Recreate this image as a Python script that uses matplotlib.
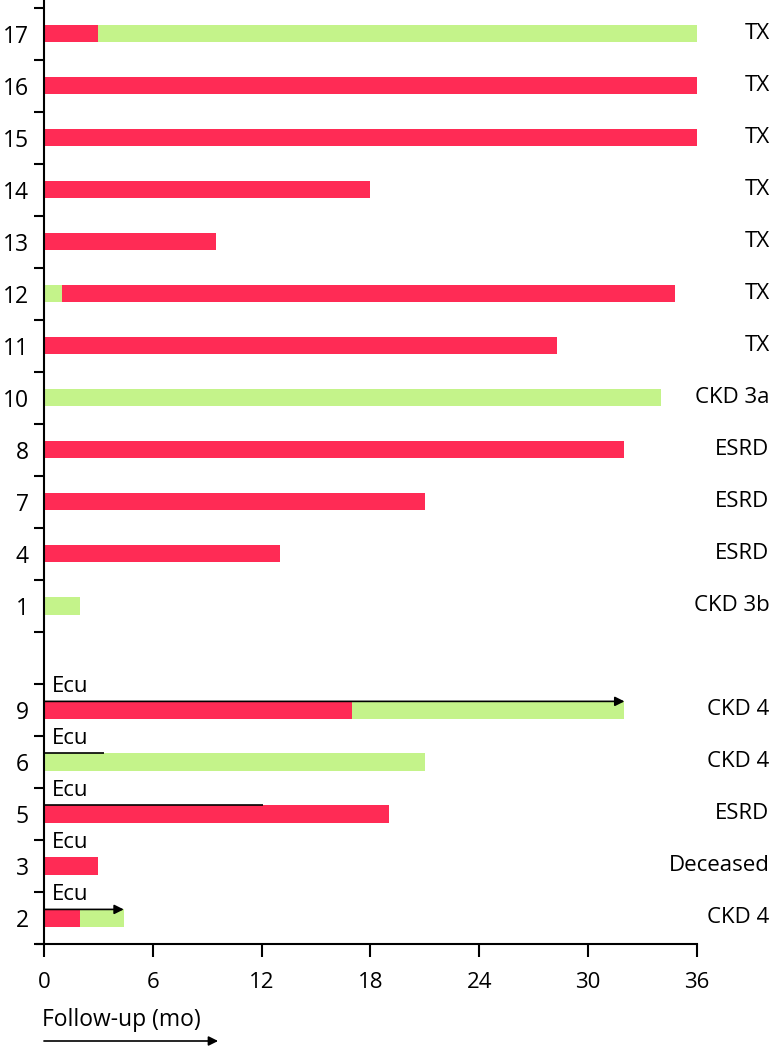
import matplotlib
matplotlib.use("Agg")
import matplotlib.pyplot as plt
from matplotlib.transforms import blended_transform_factory

plt.rcParams["font.family"] = ["Open Sans", "DejaVu Sans"]

RED = "#ff2b55"
GREEN = "#c4f38a"

# patients top to bottom; the lower group (ecu treated) sits below an empty row
ids = ["17", "16", "15", "14", "13", "12", "11", "10", "8", "7", "4", "1",
       "9", "6", "5", "3", "2"]
first_len = [3, 36, 36, 18, 9.5, 1, 28.3, 34, 32, 21, 13, 2,
             17, 21, 19, 3, 2]
first_col = ["r", "r", "r", "r", "r", "g", "r", "g", "r", "r", "r", "g",
             "r", "g", "r", "r", "r"]
second_len = [33, 0, 0, 0, 0, 33.8, 0, 0, 0, 0, 0, 0,
              15, 0, 0, 0, 2.4]
second_col = ["g", "r", "r", "r", "r", "r", "r", "r", "r", "r", "r", "r",
              "g", "r", "r", "r", "g"]
outcome = ["TX", "TX", "TX", "TX", "TX", "TX", "TX", "CKD 3a", "ESRD", "ESRD",
           "ESRD", "CKD 3b", "CKD 4", "CKD 4", "ESRD", "Deceased", "CKD 4"]
# eculizumab exposure line (months), None = no ecu
ecu_end = [None] * 12 + [32, 3.3, 12.1, 0, 4.4]
ecu_ongoing = [False] * 12 + [True, False, False, False, True]

xticks = [0, 6, 12, 18, 24, 30, 36]

colors = {"r": RED, "g": GREEN}
n_lower = 5
# upper group: rows 17..6, lower group: rows 4..0, row 5 left empty
positions = list(range(len(ids), n_lower, -1)) + list(range(n_lower - 1, -1, -1))

FS = 16

fig = plt.figure(figsize=(7.73, 10.46), dpi=100)
x_left_px, x_right_px = 36.7, 697
ax = fig.add_axes([x_left_px / 773, 102 / 1046, (x_right_px - x_left_px) / 773, 944 / 1046])

bar_h = 0.33
for i, pid in enumerate(ids):
    y = positions[i]
    ax.barh(y, first_len[i], left=0, height=bar_h, color=colors[first_col[i]], lw=0)
    if second_len[i] > 0:
        ax.barh(y, second_len[i], left=first_len[i], height=bar_h,
                color=colors[second_col[i]], lw=0)
    ax.text(40.0, y, outcome[i], ha="right", va="center", fontsize=FS, clip_on=False)
    if ecu_end[i] is not None:
        ax.text(0.45, y + 0.45, "Ecu", ha="left", va="center", fontsize=FS)
        top = y + bar_h / 2
        if ecu_end[i] > 0:
            if ecu_ongoing[i]:
                ax.annotate("", xy=(ecu_end[i], top), xytext=(0, top),
                            arrowprops=dict(arrowstyle="-|>", color="black", lw=1.2,
                                            mutation_scale=14, shrinkA=0, shrinkB=0))
            else:
                ax.plot([0, ecu_end[i]], [top, top], color="black", lw=1.2,
                        solid_capstyle="butt")

ax.set_xlim(-0.4, 36)
ax.set_ylim(-0.5, 17.65)

ax.spines["left"].set_position(("data", 0))
ax.spines["top"].set_visible(False)
ax.spines["right"].set_visible(False)
for s in ("left", "bottom"):
    ax.spines[s].set_linewidth(1.5)

ax.set_xticks(xticks)
ax.set_xticklabels([str(t) for t in xticks], fontsize=FS)
ax.tick_params(axis="x", length=9, width=1.5, pad=11)

ax.set_yticks(positions)
ax.set_yticklabels(ids, fontsize=FS + 0.5)
ax.tick_params(axis="y", which="major", length=0, pad=11)
ax.set_yticks([p + 0.5 for p in range(-1, 18)], minor=True)
ax.tick_params(axis="y", which="minor", length=7, width=1.5)

trans = blended_transform_factory(ax.transData, fig.transFigure)
fig.text(42 / 773, 1 - 1020 / 1046, "Follow-up (mo)", ha="left", va="center",
         fontsize=FS + 0.5)
ax.annotate("", xy=(9.6, 1 - 1041 / 1046), xytext=(0, 1 - 1041 / 1046),
            xycoords=trans, textcoords=trans, annotation_clip=False,
            arrowprops=dict(arrowstyle="-|>", color="black", lw=1.2,
                            mutation_scale=14, shrinkA=0, shrinkB=0))

fig.savefig("out.png", dpi=100)
